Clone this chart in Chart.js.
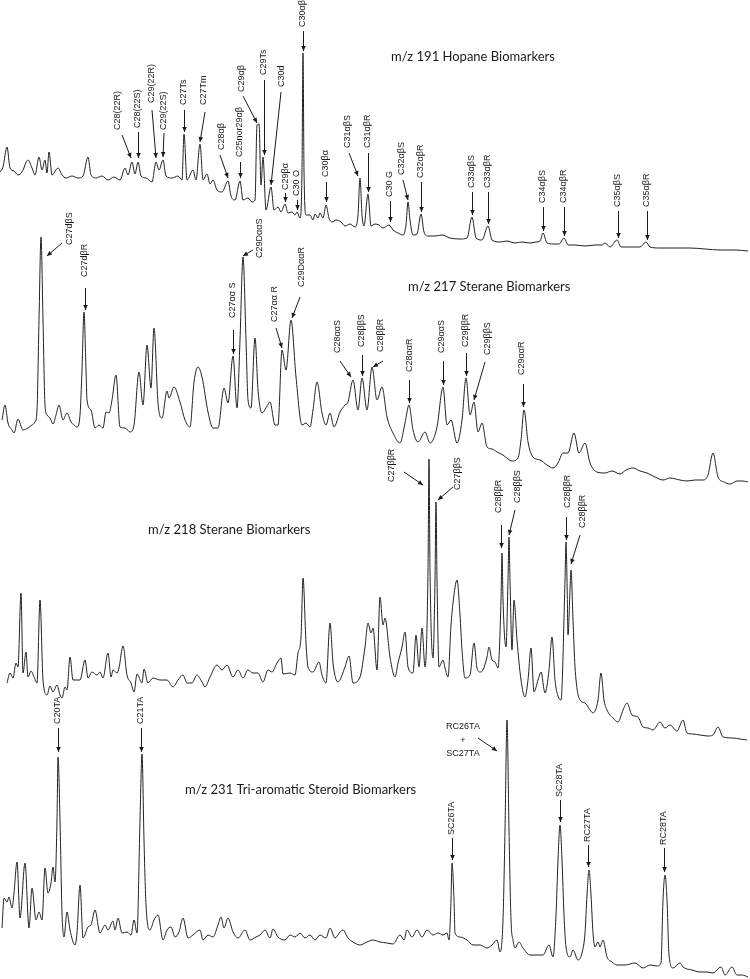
<!DOCTYPE html>
<html><head><meta charset="utf-8">
<script src="https://cdn.jsdelivr.net/npm/chart.js@4/dist/chart.umd.min.js"></script>
<style>html,body{margin:0;padding:0;background:#fff;}#wrap{width:750px;height:979px;}</style>
</head><body><div id="wrap"><canvas id="c" width="750" height="979"></canvas></div>
<script>
// ---- m/z 191 Hopane trace ----
const hopaneTime = [
0,3,7,10,14,18,22,28,32,35,
39,42,45,47,49,52,58,62,66,72,
78,83,88,91,96,102,108,114,120,125,
128,132,135,138,141,146,152,156,159,163,
166,172,178,182,184,187,193,196,200,203,
207,210,213,217,222,228,231,235,240,243,
248,252,255,257,259,261,263,266,271,274,
278,281,285,288,292,295,297,300,302,303,
304,306,310,313,315,318,320,323,326,329,
332,336,341,345,350,355,358,360,362,364,
368,371,375,379,383,389,393,398,403,406,
408,410,413,417,421,424,428,435,442,450,
460,467,472,476,482,488,492,500,507,515,
522,530,536,540,543,547,553,559,564,568,
575,585,595,602,605,610,617,621,630,640,
646,650,660,675,690,705,720,735,748];
const hopaneIntensity = [
88,93,113,92,89,85,88,100,92,85,
103,90,100,87,108,85,92,85,82,84,
82,84,103,85,82,84,80,83,80,92,
85,98,86,98,84,82,78,98,90,100,
84,82,84,80,126,80,90,80,116,80,
86,76,80,70,68,79,64,60,79,60,
62,58,60,135,136,75,103,50,73,50,
53,48,56,47,48,45,48,42,90,207,
90,45,45,40,46,42,47,42,55,42,
38,40,38,34,36,33,45,82,45,34,
66,34,36,35,32,35,30,27,25,35,
58,40,25,26,46,28,24,24,25,22,
21,22,43,22,20,34,20,18,19,17,
18,17,18,19,27,17,16,16,22,15,
15,14,15,15,17,13,20,13,13,13,
18,13,12,12,12,11,10,10,9];

// ---- m/z 217 Sterane trace ----
const sterane217Time = [
2,5,8,12,14,18,23,28,32,35,
37,39,41,43,45,47,50,53,56,59,
63,67,71,74,77,80,82,84,86,87,
91,95,99,103,106,109,112,116,120,125,
130,134,139,143,147,151,154,158,162,167,
169,174,180,185,190,194,198,202,208,213,
218,224,228,233,237,240,243,246,248,251,
255,258,262,266,270,275,278,282,286,291,
296,302,306,310,313,317,322,326,330,334,
340,345,348,353,358,362,367,372,377,382,
387,393,400,405,409,413,418,425,430,437,
443,447,451,457,462,466,470,474,478,482,
487,492,497,503,508,512,518,521,524,528,
533,540,547,553,558,563,568,574,579,585,
590,597,605,612,620,626,633,640,647,655,
663,670,680,687,695,703,708,713,718,724,
730,737,743,748];
const sterane217Intensity = [
70,85,67,60,57,71,60,62,65,68,
80,170,253,170,85,75,72,66,75,85,
70,77,68,65,63,75,120,178,120,90,
80,62,65,62,78,77,90,115,63,62,
58,65,118,85,145,102,162,87,72,99,
92,103,88,70,63,108,123,113,78,62,
62,102,87,134,82,150,233,150,90,82,
152,100,77,82,88,65,65,140,120,170,
113,65,67,63,80,108,77,65,77,63,
78,85,88,110,80,112,80,123,90,103,
73,57,47,67,85,60,48,58,47,63,
103,65,70,47,70,112,75,88,58,67,
43,41,38,35,31,29,32,50,80,48,
33,30,25,22,27,37,37,57,37,47,
27,18,17,19,16,20,22,19,17,13,
10,12,10,9,10,10,15,37,13,8,
6,9,9,8];

// ---- m/z 218 Sterane trace ----
const sterane218Time = [
7,10,13,16,18,21,23,26,28,31,
34,37,40,43,47,50,53,57,60,62,
65,67,70,73,80,85,88,92,97,100,
103,108,111,113,117,119,123,127,131,134,
137,142,144,148,153,160,167,173,178,183,
187,192,197,202,205,210,217,222,227,233,
238,243,248,253,258,263,268,272,277,281,
283,290,295,298,301,303,306,308,313,319,
322,326,330,333,338,345,349,353,360,365,
368,371,373,377,380,383,385,390,395,398,
402,405,408,413,416,419,422,425,428,429,
430,433,435,436,437,439,443,445,448,451,
453,457,460,462,465,470,474,477,480,483,
487,489,492,495,498,501,502,503,506,508,
509,510,512,514,517,521,525,528,531,534,
538,541,545,549,552,555,558,561,565,566,
567,568,570,571,573,575,580,585,590,593,
598,601,604,607,613,618,623,627,632,638,
643,648,653,660,665,670,677,683,687,693,
700,708,713,718,723,733,740,747];
const sterane218Intensity = [
67,77,72,87,83,157,77,98,73,79,
73,67,150,70,55,64,58,65,55,52,
63,60,93,70,70,90,72,78,75,78,
72,97,73,80,77,82,104,75,67,58,
76,67,81,67,72,70,70,63,70,75,
67,67,75,68,63,73,85,80,85,73,
80,72,80,77,77,68,80,78,87,92,
76,77,75,97,113,172,107,83,78,88,
75,67,127,87,68,83,94,67,73,103,
127,117,122,80,153,125,132,93,73,87,
103,118,83,77,115,83,122,83,180,291,
180,92,170,248,170,83,90,82,73,125,
147,170,135,100,72,75,107,82,78,80,
93,103,90,88,82,150,197,150,103,170,
213,170,100,150,110,70,53,70,102,58,
70,78,57,80,113,70,54,50,170,208,
170,115,160,180,130,83,50,47,40,37,
50,77,50,40,32,28,40,47,35,33,
23,22,20,28,22,25,19,30,17,16,
15,14,15,23,13,12,11,10];

// ---- m/z 231 Tri-aromatic steroid trace ----
const triaroTime = [
2,4,7,9,12,14,17,20,25,29,
32,36,39,42,45,48,51,53,55,57,
58,60,62,64,67,70,75,77,80,83,
88,91,95,100,105,108,113,115,118,122,
127,131,134,137,140,142,144,146,150,154,
158,163,167,171,175,179,183,188,193,200,
203,208,213,218,221,224,228,233,238,245,
250,256,260,265,270,273,278,285,290,295,
300,305,310,315,320,326,330,335,340,343,
348,353,360,367,373,380,387,393,400,404,
407,412,417,422,427,433,438,443,447,449,
451,452,454,455,460,467,473,480,487,492,
497,500,503,505,507,509,511,513,515,519,
523,530,537,543,549,553,556,558,560,562,
564,566,570,573,578,582,585,587,589,591,
593,595,598,600,603,607,612,617,625,635,
643,650,657,661,663,665,667,669,673,680,
683,692,700,707,713,721,725,732,737,742,
748];
const triaroIntensity = [
52,82,78,83,72,87,118,62,117,52,
92,60,68,60,112,87,97,113,98,160,
223,160,67,43,68,50,35,47,95,42,
53,55,70,47,55,50,59,50,62,47,
48,45,60,47,160,226,140,75,50,60,
65,40,50,53,43,48,62,42,45,50,
40,45,43,55,63,52,62,48,42,50,
40,43,45,50,42,51,43,40,45,43,
47,42,45,40,45,42,52,42,48,50,
42,38,35,38,40,38,37,36,45,40,
50,43,50,43,50,45,47,45,47,40,
80,117,80,47,43,40,35,35,32,35,
40,28,60,150,260,150,60,40,32,38,
32,25,25,25,35,23,65,120,155,120,
65,33,23,30,20,27,47,85,110,85,
47,33,38,33,40,23,18,15,15,17,
12,15,14,17,80,105,80,25,12,17,
13,10,8,8,7,13,5,13,5,5,
3];

// ---- text ----
const traceTitles = ['m/z 191 Hopane Biomarkers','m/z 217 Sterane Biomarkers','m/z 218 Sterane Biomarkers','m/z 231 Tri-aromatic Steroid Biomarkers'];
const hopaneLabels = ['C28(22R)','C28(22S)','C29(22R)','C29(22S)','C27Ts','C27Tm','C28αβ','C25nor29αβ','C29αβ','C29Ts','C30d','C29βα','C30 O','C30αβ','C30βα','C31αβS','C31αβR','C30 G','C32αβS','C32αβR','C33αβS','C33αβR','C34αβS','C34αβR','C35αβS','C35αβR'];
const sterane217Labels = ['C27dβS','C27dβR','C27αα S','C29DααS','C27αα R','C29DααR','C28ααS','C28ββS','C28ββR','C28ααR','C29ααS','C29ββR','C29ββS','C29ααR'];
const sterane218Labels = ['C27ββR','C27ββS','C28ββR','C28ββS','C28ββR','C28ββR'];
const triaroLabels = ['C20TA','C21TA','SC26TA','RC26TA|+|SC27TA','SC28TA','RC27TA','RC28TA'];

// ---- layout (pixels): title positions; label [textX, textBottomY, tailX, tailY, tipX, tipY] ----
const titleLayout = [[391,57],[408,287],[148,530],[185,790]];
const hopaneLayout = [
[118,130,122,135,131,158],[138,128,138,132,138,158],[152,103,152,110,156,158],[164,130,164,133,163,157],
[184,105,184,110,184,132],[204,105,205,112,200,142],[222,150,220,155,228,178],[240,157,240,162,240,178],
[242,92,243,96,257,123],[264,75,264,80,264,155],[282,87,281,92,271,185],[286,190,285,193,285,202],
[297,196,297,200,297,210],[303,27,303,31,303,51],[326,177,326,182,326,202],[348,148,349,153,358,176],
[368,148,368,153,368,192],[390,197,390,201,390,222],[402,175,403,180,408,200],[421,178,421,182,421,212],
[472,188,472,192,472,215],[488,188,488,192,488,224],[543,203,543,207,543,231],[564,203,564,207,564,236],
[618,207,618,211,618,238],[647,207,647,211,647,240]];
const sterane217Layout = [
[70,245,62,243,47,256],[85,277,85,288,85,310],[233,318,233,330,233,354],[260,258,253,250,243,256],
[275,322,276,328,282,348],[302,287,300,297,292,318],[338,353,340,361,351,377],[362,347,362,355,362,376],
[381,352,383,361,373,367],[410,372,409,380,409,403],[442,353,443,361,443,385],[466,347,466,353,466,376],
[488,355,485,362,474,400],[522,375,523,384,523,407]];
const sterane218Layout = [
[392,482,404,472,423,485],[458,490,453,487,438,500],[499,513,501,525,501,548],[518,503,515,510,509,535],
[568,508,566,517,566,540],[583,528,580,535,571,564]];
const triaroLayout = [
[58,724,58,728,58,752],[141,724,141,728,141,752],[452,835,452,838,452,860],[463,727,478,738,497,751],
[560,797,560,800,560,822],[588,842,588,845,588,867],[664,845,664,848,664,872]];

function arrow(ctx,x1,y1,x2,y2){
  ctx.beginPath();ctx.moveTo(x1,y1);ctx.lineTo(x2,y2);ctx.stroke();
  const a=Math.atan2(y2-y1,x2-x1),L=5,W=2.3;
  ctx.beginPath();ctx.moveTo(x2,y2);
  ctx.lineTo(x2-L*Math.cos(a)+W*Math.sin(a),y2-L*Math.sin(a)-W*Math.cos(a));
  ctx.lineTo(x2-L*Math.cos(a)-W*Math.sin(a),y2-L*Math.sin(a)+W*Math.cos(a));
  ctx.closePath();ctx.fill();
}
const groups=[[hopaneLabels,hopaneLayout],[sterane217Labels,sterane217Layout],[sterane218Labels,sterane218Layout],[triaroLabels,triaroLayout]];
const annotPlugin={
  id:'annot',
  afterDatasetsDraw(chart){
    const ctx=chart.ctx;
    ctx.save();
    ctx.fillStyle='#1a1a1a';ctx.strokeStyle='#1a1a1a';ctx.lineWidth=1;
    ctx.font='13px Lato';ctx.textAlign='left';ctx.textBaseline='middle';
    traceTitles.forEach((t,i)=>ctx.fillText(t,titleLayout[i][0],titleLayout[i][1]));
    ctx.font='9px "Liberation Sans"';
    groups.forEach(([labels,layout])=>{
      labels.forEach((lab,i)=>{
        const [tx,ty,ax,ay,bx,by]=layout[i];
        if(lab.indexOf('|')>=0){
          const parts=lab.split('|');
          ctx.textAlign='center';ctx.textBaseline='middle';
          parts.forEach((p,k)=>ctx.fillText(p,tx,ty+k*13.5));
        }else{
          ctx.save();ctx.translate(tx,ty);ctx.rotate(-Math.PI/2);
          ctx.textAlign='left';ctx.textBaseline='middle';ctx.fillText(lab,0,0);ctx.restore();
        }
        const ox=(ax===bx)?0.5:0;
        arrow(ctx,ax+ox,ay,bx+ox,by);
      });
    });
    ctx.restore();
  }
};

function pts(t,v){return t.map((x,i)=>({x:x,y:v[i]}));}
const H=979;
new Chart(document.getElementById('c'),{
  type:'line',
  data:{datasets:[
    {label:traceTitles[0],data:pts(hopaneTime,hopaneIntensity),yAxisID:'y1'},
    {label:traceTitles[1],data:pts(sterane217Time,sterane217Intensity),yAxisID:'y2'},
    {label:traceTitles[2],data:pts(sterane218Time,sterane218Intensity),yAxisID:'y3'},
    {label:traceTitles[3],data:pts(triaroTime,triaroIntensity),yAxisID:'y4'}
  ]},
  options:{
    responsive:false,animation:false,
    layout:{padding:0},
    plugins:{legend:{display:false},tooltip:{enabled:false},title:{display:false}},
    elements:{point:{radius:0},line:{borderWidth:1,borderColor:'#222',cubicInterpolationMode:'monotone',fill:false}},
    datasets:{line:{borderColor:'#222',borderWidth:1,clip:false}},
    scales:{
      x:{type:'linear',min:0,max:750,display:false},
      y1:{type:'linear',min:260-H,max:260,display:false},
      y2:{type:'linear',min:490-H,max:490,display:false},
      y3:{type:'linear',min:750-H,max:750,display:false},
      y4:{type:'linear',min:980-H,max:980,display:false}
    }
  },
  plugins:[annotPlugin]
});
</script></body></html>
